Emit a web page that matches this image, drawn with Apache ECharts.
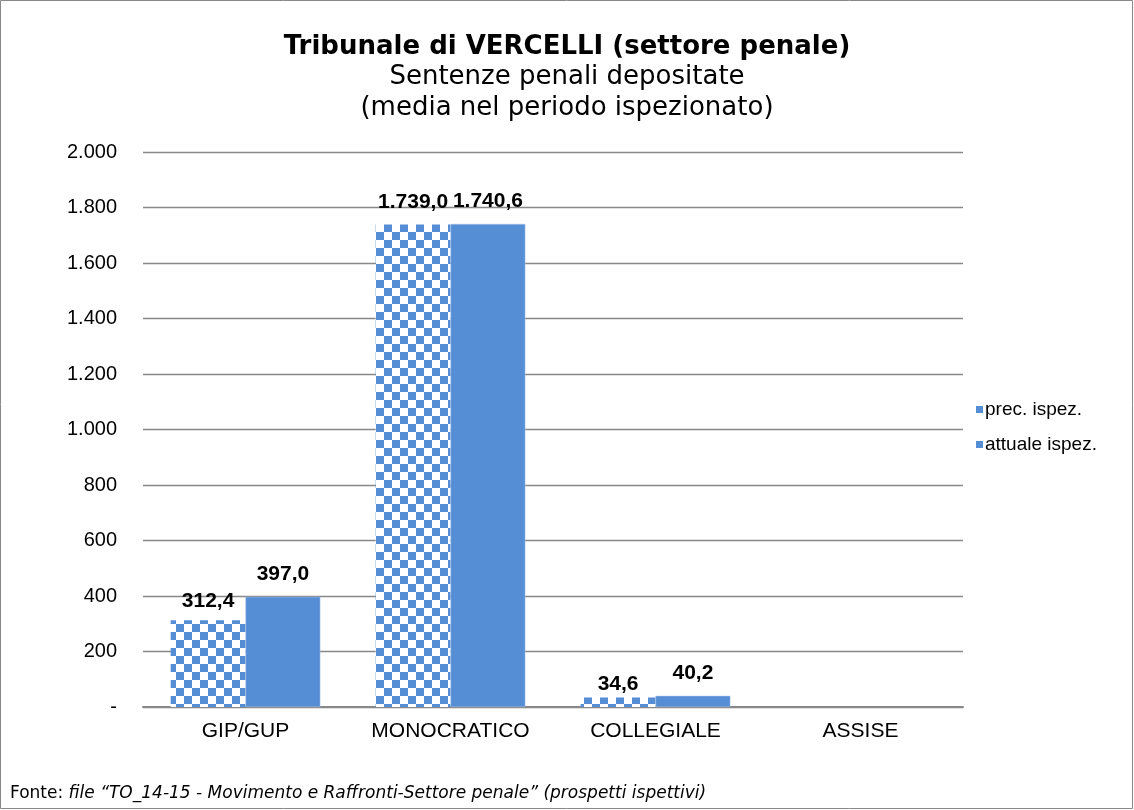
<!DOCTYPE html>
<html>
<head>
<meta charset="utf-8">
<script src="https://cdn.jsdelivr.net/npm/echarts@6/dist/echarts.min.js"></script>
<style>
  html, body { margin: 0; padding: 0; background: #fff; }
  #main { width: 1134px; height: 810px; }
</style>
</head>
<body>
<div id="main"></div>
<script>
  var categories = ['GIP/GUP', 'MONOCRATICO', 'COLLEGIALE', 'ASSISE'];
  var precIspez = [312.4, 1739.0, 34.6, null];
  var attualeIspez = [397.0, 1740.6, 40.2, null];
  var seriesNames = ['prec. ispez.', 'attuale ispez.'];

  function fmt(v) {
    if (v === 0) return '-';
    return Math.round(v).toString().replace(/\B(?=(\d{3})+(?!\d))/g, '.');
  }
  function fmt1(v) {
    var parts = v.toFixed(1).split('.');
    return parts[0].replace(/\B(?=(\d{3})+(?!\d))/g, '.') + ',' + parts[1];
  }

  // checkerboard fill for "prec. ispez."
  var pat = document.createElement('canvas');
  pat.width = 16; pat.height = 16;
  var ctx = pat.getContext('2d');
  ctx.fillStyle = '#fff';
  ctx.fillRect(0, 0, 16, 16);
  ctx.fillStyle = '#558ED5';
  ctx.fillRect(0, 0, 8, 8);
  ctx.fillRect(8, 8, 8, 8);

  var blue = '#558ED5';
  var arial = 'Liberation Sans, Arial, sans-serif';
  var verdana = 'DejaVu Sans, Verdana, sans-serif';

  function labelOpt(dist) {
    return {
      show: true, position: 'top', color: '#000', fontWeight: 'bold',
      fontSize: 21, fontFamily: arial, distance: dist,
      formatter: function (p) { return fmt1(p.value); }
    };
  }
  // Excel placed some labels closer to the bar
  var precData = precIspez.map(function (v, i) {
    var d = { value: v };
    if (i === 0) d.label = { distance: 9 };
    if (i === 2) d.label = { distance: 3 };
    return d;
  });

  var chart = echarts.init(document.getElementById('main'));
  chart.setOption({
    animation: false,
    title: [{
      text: 'Tribunale di VERCELLI (settore penale)',
      left: 'center', top: 29,
      textStyle: { fontSize: 26, fontWeight: 'bold', color: '#000', fontFamily: verdana }
    }, {
      text: 'Sentenze penali depositate\n(media nel periodo ispezionato)',
      left: 'center', top: 57,
      textStyle: { fontSize: 26, fontWeight: 'normal', color: '#000', lineHeight: 31, fontFamily: verdana }
    }, {
      text: 'Fonte: {i|file “TO_14-15 - Movimento e Raffronti-Settore penale” (prospetti ispettivi)}',
      left: 5, top: 780,
      textStyle: {
        fontSize: 17, fontWeight: 'normal', color: '#000', fontFamily: verdana,
        rich: { i: { fontSize: 17, fontStyle: 'italic', color: '#000', fontFamily: verdana } }
      }
    }],
    legend: {
      orient: 'vertical', left: 971, top: 395,
      itemWidth: 7, itemHeight: 7, itemGap: 16,
      icon: 'rect',
      textStyle: { fontSize: 19, color: '#000', fontFamily: arial, padding: [0, 0, 0, -3] },
      data: [
        { name: seriesNames[0], itemStyle: { color: { image: pat, repeat: 'repeat' }, borderWidth: 0 } },
        { name: seriesNames[1], itemStyle: { color: blue, borderWidth: 0 } }
      ]
    },
    grid: { left: 143, right: 171, top: 152, bottom: 103, containLabel: false },
    xAxis: {
      type: 'category', data: categories,
      axisLine: { lineStyle: { color: '#888', width: 2 } },
      axisTick: { show: false },
      axisLabel: { interval: 0, fontSize: 21, color: '#000', margin: 14, fontFamily: arial }
    },
    yAxis: {
      type: 'value', min: 0, max: 2000, interval: 200,
      axisLine: { show: false }, axisTick: { show: false },
      axisLabel: { fontSize: 20, color: '#000', margin: 26, formatter: fmt, fontFamily: arial },
      splitLine: { lineStyle: { color: '#888', width: 1.3 } }
    },
    series: [{
      name: seriesNames[0], type: 'bar', data: precData,
      barGap: '0%', barCategoryGap: '27%',
      itemStyle: { color: { image: pat, repeat: 'repeat' } },
      label: labelOpt(12)
    }, {
      name: seriesNames[1], type: 'bar', data: attualeIspez,
      itemStyle: { color: blue, borderColor: '#a9c4ea', borderWidth: 0.5 },
      label: labelOpt(12)
    }],
    graphic: [{
      type: 'rect', shape: { x: 0.5, y: 0.5, width: 1132, height: 808 },
      style: { fill: 'none', stroke: '#888', lineWidth: 1 }, silent: true
    }]
  });
</script>
</body>
</html>
